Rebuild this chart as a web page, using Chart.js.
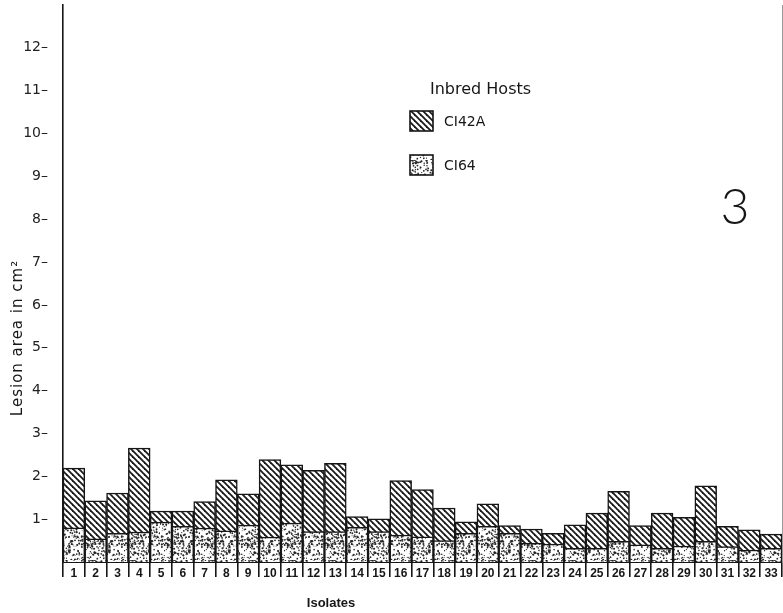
<!DOCTYPE html>
<html>
<head>
<meta charset="utf-8">
<script src="https://cdn.jsdelivr.net/npm/chart.js@4/dist/chart.umd.min.js"></script>
<style>
  html, body { margin: 0; padding: 0; background: #fff; }
  #wrap { width: 783px; height: 613px; }
</style>
</head>
<body>
<div id="wrap"><canvas id="c" width="783" height="613"></canvas></div>
<script>
// ---- data ----
const categories = ['1','2','3','4','5','6','7','8','9','10','11','12','13','14','15','16','17',
  '18','19','20','21','22','23','24','25','26','27','28','29','30','31','32','33'];
const ci42aValues = [2.19, 1.43, 1.61, 2.66, 1.19, 1.19, 1.41, 1.92, 1.59, 2.39, 2.27, 2.14, 2.30,
  1.06, 1.01, 1.90, 1.69, 1.26, 0.94, 1.36, 0.85, 0.77, 0.67, 0.87, 1.14, 1.65, 0.85, 1.14, 1.04,
  1.78, 0.83, 0.75, 0.65];
const ci64Values = [0.80, 0.54, 0.67, 0.70, 0.93, 0.83, 0.79, 0.73, 0.86, 0.58, 0.91, 0.71, 0.71,
  0.81, 0.71, 0.63, 0.59, 0.50, 0.67, 0.83, 0.67, 0.44, 0.42, 0.32, 0.32, 0.48, 0.40, 0.32, 0.37,
  0.48, 0.36, 0.28, 0.32];
const yTickValues = [1, 2, 3, 4, 5, 6, 7, 8, 9, 10, 11, 12];
const yTickLabels = ['1–', '2–', '3–', '4–', '5–', '6–', '7–', '8–', '9–', '10–', '11–', '12–'];
const seriesNames = ['CI42A', 'CI64'];
const legendTitle = 'Inbred Hosts';
const xTitle = 'Isolates';
const yTitle = 'Lesion area in cm²';
const panelLabel = '3';

// ---- fill patterns ----
const canvas = document.getElementById('c');
const ctx = canvas.getContext('2d');

function makeHatch() {
  const p = 6;
  const c = document.createElement('canvas');
  c.width = p; c.height = p;
  const g = c.getContext('2d');
  g.fillStyle = '#fff'; g.fillRect(0, 0, p, p);
  g.strokeStyle = '#1a1a1a'; g.lineWidth = 1.8;
  for (const o of [-p, 0, p]) {
    g.beginPath(); g.moveTo(o - 1, -1); g.lineTo(o + p + 1, p + 1); g.stroke();
  }
  return ctx.createPattern(c, 'repeat');
}
function makeStipple() {
  const n = 40;
  const c = document.createElement('canvas');
  c.width = n; c.height = n;
  const g = c.getContext('2d');
  g.fillStyle = '#fff'; g.fillRect(0, 0, n, n);
  let s = 987654;
  const next = () => { s = (s * 1103515245 + 12345) & 0x7fffffff; return s / 0x7fffffff; };
  g.fillStyle = '#262626';
  for (let i = 0; i < 280; i++) {
    const x = next() * n, y = next() * n, r = 0.45 + next() * 0.65;
    g.beginPath(); g.arc(x, y, r, 0, Math.PI * 2); g.fill();
  }
  return ctx.createPattern(c, 'repeat');
}
const hatch = makeHatch();
const stipple = makeStipple();

const ink = '#161616';
const baseFont = "'DejaVu Sans', 'Liberation Sans', sans-serif";
const boldFont = "'Liberation Sans', Arial, sans-serif";

// ---- decorations: titles, legend, panel number ----
const decorations = {
  id: 'decorations',
  afterDraw(chart) {
    const g = chart.ctx;
    g.save();
    g.fillStyle = ink;
    // y title
    g.save();
    g.translate(18, 338);
    g.rotate(-Math.PI / 2);
    g.font = '15px ' + baseFont;
    try { g.letterSpacing = '1px'; } catch (e) {}
    g.textAlign = 'center'; g.textBaseline = 'middle';
    g.fillText(yTitle, 0, 0);
    try { g.letterSpacing = '0px'; } catch (e) {}
    g.restore();
    // x title
    g.font = 'bold 13px ' + boldFont;
    g.textAlign = 'center'; g.textBaseline = 'middle';
    g.fillText(xTitle, 331, 603);
    // panel label
    g.font = '300 50px ' + "Lato, 'Liberation Sans', sans-serif";
    g.fillText(panelLabel, 735, 208);
    // legend
    g.font = '16px ' + baseFont;
    g.textAlign = 'left';
    g.fillText(legendTitle, 430, 90);
    const fills = [hatch, stipple];
    const rows = [121, 165];
    g.font = '14px ' + baseFont;
    for (let i = 0; i < seriesNames.length; i++) {
      g.fillStyle = fills[i];
      g.fillRect(410, rows[i] - 10, 23, 20);
      g.strokeStyle = ink; g.lineWidth = 1.6;
      g.strokeRect(410, rows[i] - 10, 23, 20);
      g.fillStyle = ink;
      g.fillText(seriesNames[i], 444, rows[i] + 1);
    }
    g.restore();
  }
};

new Chart(canvas, {
  type: 'bar',
  data: {
    labels: categories,
    datasets: [
      {
        label: seriesNames[0],
        data: ci42aValues,
        backgroundColor: hatch,
        borderColor: ink,
        borderWidth: 1.5,
        borderSkipped: 'bottom',
        grouped: false,
        order: 1,
        barPercentage: 1,
        categoryPercentage: 1
      },
      {
        label: seriesNames[1],
        data: ci64Values,
        backgroundColor: stipple,
        borderColor: ink,
        borderWidth: 1.5,
        borderSkipped: 'bottom',
        grouped: false,
        order: 0,
        barPercentage: 1,
        categoryPercentage: 1
      }
    ]
  },
  options: {
    responsive: false,
    animation: false,
    devicePixelRatio: 1,
    layout: { padding: { top: 5, left: 0, right: 0, bottom: 0 } },
    plugins: { legend: { display: false }, tooltip: { enabled: false } },
    scales: {
      x: {
        offset: true,
        grid: { offset: true, drawOnChartArea: false, drawTicks: true, tickLength: 15, color: ink, lineWidth: 1.6 },
        border: { display: true, color: ink, width: 2 },
        ticks: { padding: -11, autoSkip: false, maxRotation: 0, color: ink,
                 font: { family: boldFont, size: 12, weight: 'bold' } },
        afterFit(s) { s.height = 51; s.paddingLeft = 0; s.paddingRight = 0; }
      },
      y: {
        min: 0,
        max: 13.0,
        afterBuildTicks(s) { s.ticks = yTickValues.map(v => ({ value: v })); },
        ticks: {
          padding: 15, color: '#222',
          font: { family: baseFont, size: 14 },
          callback: (v) => { const i = yTickValues.indexOf(v); return i >= 0 ? yTickLabels[i] : ''; }
        },
        grid: { display: true, drawOnChartArea: false, drawTicks: false },
        border: { display: true, color: ink, width: 1.6 },
        afterFit(s) { s.width = 63; s.paddingTop = 0; s.paddingBottom = 0; }
      },
      y2: {
        position: 'right',
        min: 0, max: 1,
        grid: { display: true, drawOnChartArea: false, drawTicks: false },
        ticks: { display: false },
        border: { display: true, color: '#9a9a9a', width: 1 },
        afterFit(s) { s.width = 1; s.paddingTop = 0; s.paddingBottom = 0; }
      }
    }
  },
  plugins: [decorations]
});
</script>
</body>
</html>
